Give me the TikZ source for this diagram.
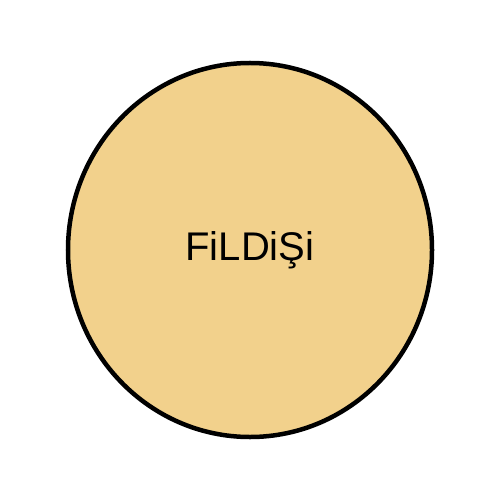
\documentclass[tikz,border=0pt]{standalone}
\usepackage{fontspec}
\setmainfont{Liberation Sans}
\usetikzlibrary{shapes.geometric}
\definecolor{ivory}{HTML}{F2D18C}
\begin{document}
\begin{tikzpicture}[x=1bp,y=-1bp]
\useasboundingbox (0,0) rectangle (500,500);
\tikzset{ball/.style={ellipse,draw=black,line width=4.5bp,fill=ivory,minimum width=364bp,minimum height=374bp,inner sep=0pt}}
\node[ball] (c) at (250,250) {};
\node (t) at (250,250) {\fontsize{40bp}{48bp}\selectfont FiLDiŞi};
\end{tikzpicture}
\end{document}
